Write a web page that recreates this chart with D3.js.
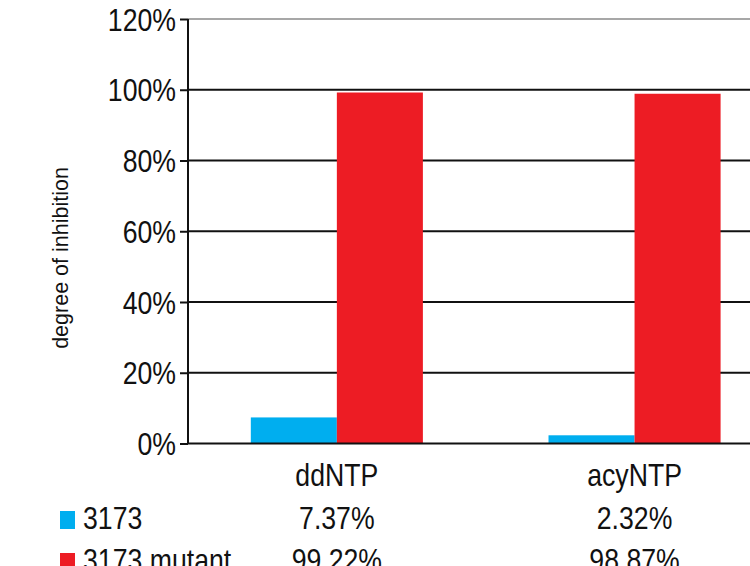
<!DOCTYPE html>
<html>
<head>
<meta charset="utf-8">
<script src="https://cdn.jsdelivr.net/npm/d3@7/dist/d3.min.js"></script>
<style>
  html, body { margin: 0; padding: 0; background: #fff; }
  svg { display: block; }
  text { font-family: "Liberation Sans", Arial, sans-serif; fill: #111; }
</style>
</head>
<body>
<svg id="chart" width="750" height="566"></svg>
<script>
// Inhibition data
const categories = ["ddNTP", "acyNTP"];
const seriesNames = ["3173", "3173 mutant"];
const values3173 = [7.37, 2.32];
const valuesMutant = [99.22, 98.87];
const valueLabels3173 = ["7.37%", "2.32%"];
const valueLabelsMutant = ["99.22%", "98.87%"];
const yTicks = [0, 20, 40, 60, 80, 100, 120];
const colors = ["#00AEEF", "#ED1C24"];

const series = [
  { name: seriesNames[0], values: values3173, labels: valueLabels3173, color: colors[0] },
  { name: seriesNames[1], values: valuesMutant, labels: valueLabelsMutant, color: colors[1] }
];

const svg = d3.select("#chart");
const plotLeft = 188, plotRight = 783.4, plotTop = 19, plotBottom = 443.5;
const bigFont = 31;     // size of the large labels
const squeeze = 0.86;   // horizontal condensing of the large labels

const x = d3.scaleBand().domain(categories).range([plotLeft, plotRight])
  .paddingInner(0.422).paddingOuter(0.211);
const xs = d3.scaleBand().domain(seriesNames).range([0, x.bandwidth()]).padding(0);
const y = d3.scaleLinear().domain([0, 120]).range([plotBottom, plotTop]);

// places a condensed text at (px, py)
function condensed(sel, px, py) {
  sel.attr("x", 0).attr("y", 0)
    .attr("font-size", bigFont)
    .attr("transform", (d, i) => `translate(${px(d, i)},${py(d, i)}) scale(${squeeze},1)`);
  return sel;
}

// horizontal gridlines
svg.append("g").selectAll("line").data(yTicks.filter(t => t > 0)).join("line")
  .attr("x1", plotLeft).attr("x2", 750)
  .attr("y1", d => y(d)).attr("y2", d => y(d))
  .attr("stroke", d => d === 120 ? "#8a8a8a" : "#111")
  .attr("stroke-width", d => d === 120 ? 1.6 : 2);

// bars
const groups = svg.append("g").selectAll("g").data(series).join("g")
  .attr("fill", d => d.color);
groups.selectAll("rect")
  .data(s => categories.map((c, i) => ({ c, v: s.values[i], name: s.name })))
  .join("rect")
  .attr("x", d => x(d.c) + xs(d.name))
  .attr("width", xs.bandwidth())
  .attr("y", d => y(d.v))
  .attr("height", d => y(0) - y(d.v));

// baseline
svg.append("line").attr("x1", plotLeft).attr("x2", 750)
  .attr("y1", y(0)).attr("y2", y(0)).attr("stroke", "#111").attr("stroke-width", 2);

// y axis
const yAxis = d3.axisLeft(y).tickValues(yTicks).tickFormat(d => d + "%")
  .tickSize(8).tickPadding(4);
const ya = svg.append("g").attr("transform", `translate(${plotLeft},0)`).call(yAxis);
ya.select(".domain").attr("stroke", "#111").attr("stroke-width", 2)
  .attr("d", `M0,${plotTop}V${plotBottom}`);
ya.selectAll(".tick line").attr("stroke", "#111").attr("stroke-width", 2);
ya.selectAll(".tick text")
  .style("font-family", '"Liberation Sans", Arial, sans-serif')
  .attr("fill", "#111")
  .attr("dy", "0.36em")
  .call(condensed, () => -12, () => 0);

// y axis title
svg.append("text")
  .attr("transform", "translate(68,258) rotate(-90)")
  .attr("text-anchor", "middle")
  .attr("font-size", 21.5)
  .text("degree of inhibition");

// category labels
svg.append("g").selectAll("text").data(categories).join("text")
  .attr("text-anchor", "middle")
  .text(d => d)
  .call(condensed, d => x(d) + x.bandwidth() / 2, () => 486);

// data table rows with legend keys
const rowY = [529, 571];
const rows = svg.append("g").selectAll("g").data(series).join("g")
  .attr("transform", (d, i) => `translate(0,${rowY[i]})`);
rows.append("rect").attr("x", 60).attr("y", -18).attr("width", 15).attr("height", 18)
  .attr("fill", d => d.color);
rows.append("text").text(d => d.name)
  .call(condensed, () => 83, () => 0);
rows.selectAll("text.val")
  .data(s => categories.map((c, i) => ({ c, label: s.labels[i] })))
  .join("text").attr("class", "val")
  .attr("text-anchor", "middle")
  .text(d => d.label)
  .call(condensed, d => x(d.c) + x.bandwidth() / 2, () => 0);
</script>
</body>
</html>
